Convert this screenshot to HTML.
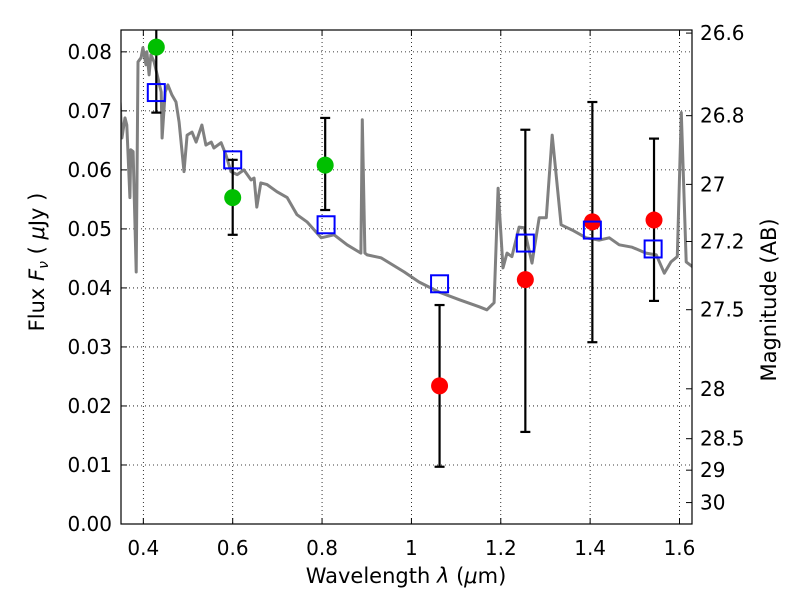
<!DOCTYPE html>
<html><head><meta charset="utf-8"><style>
body{margin:0;background:#fff;}
svg{display:block;font-family:"DejaVu Sans","Liberation Sans",sans-serif;}
</style></head><body>
<svg id="chart" width="800" height="600" xmlns="http://www.w3.org/2000/svg"></svg>
<script>
const specWave=[0.348,0.352,0.359,0.363,0.370,0.372,0.377,0.384,0.388,0.395,0.399,0.406,0.408,0.413,0.417,0.424,0.431,0.440,0.442,0.449,0.455,0.464,0.473,0.480,0.491,0.498,0.509,0.518,0.531,0.540,0.552,0.558,0.574,0.585,0.596,0.610,0.625,0.641,0.648,0.654,0.663,0.677,0.699,0.722,0.744,0.766,0.798,0.827,0.856,0.887,0.890,0.896,0.901,0.932,0.984,1.017,1.062,1.107,1.152,1.169,1.185,1.194,1.205,1.214,1.225,1.241,1.252,1.270,1.286,1.302,1.315,1.335,1.360,1.391,1.420,1.443,1.465,1.494,1.525,1.548,1.566,1.581,1.595,1.604,1.615,1.629];
const specFlux=[0.0714,0.0654,0.0688,0.0676,0.0553,0.0634,0.0631,0.0427,0.0783,0.0790,0.0807,0.0778,0.0800,0.0761,0.0795,0.0783,0.0761,0.0732,0.0654,0.0732,0.0744,0.0727,0.0715,0.0681,0.0597,0.0659,0.0664,0.0647,0.0676,0.0642,0.0647,0.0637,0.0646,0.0625,0.0597,0.0592,0.0600,0.0583,0.0586,0.0537,0.0578,0.0575,0.0563,0.0553,0.0524,0.0512,0.0485,0.0490,0.0473,0.0459,0.0685,0.0459,0.0456,0.0451,0.0427,0.0410,0.0393,0.0380,0.0368,0.0363,0.0375,0.0569,0.0434,0.0459,0.0453,0.0503,0.0502,0.0442,0.0519,0.0519,0.0659,0.0507,0.0498,0.0485,0.0481,0.0485,0.0473,0.0469,0.0459,0.0456,0.0425,0.0444,0.0453,0.0697,0.0444,0.0436];
const greenWave=[0.429,0.600,0.807];
const greenFlux=[0.0808,0.0553,0.0608];
const greenLo=[0.0697,0.0490,0.0532];
const greenHi=[0.0900,0.0617,0.0688];
const redWave=[1.063,1.255,1.405,1.543];
const redFlux=[0.0234,0.0414,0.0512,0.0515];
const redLo=[0.0097,0.0156,0.0308,0.0378];
const redHi=[0.0371,0.0668,0.0715,0.0653];
const modelWave=[0.429,0.600,0.809,1.063,1.255,1.405,1.541];
const modelFlux=[0.0731,0.0617,0.0507,0.0407,0.0476,0.0498,0.0466];
const xTicks=[0.4,0.6,0.8,1.0,1.2,1.4,1.6];
const xTickLabels=["0.4","0.6","0.8","1","1.2","1.4","1.6"];
const yTicks=[0,0.01,0.02,0.03,0.04,0.05,0.06,0.07,0.08];
const yTickLabels=["0.00","0.01","0.02","0.03","0.04","0.05","0.06","0.07","0.08"];
const magTicks=[26.6,26.8,27,27.2,27.5,28,28.5,29,30];
const magTickLabels=["26.6","26.8","27","27.2","27.5","28","28.5","29","30"];

const L=121,R=692,T=30,B=524;
const X0=0.35,X1=1.628,Y0=0,Y1=0.0837;
const sx=v=>L+(v-X0)/(X1-X0)*(R-L);
const sy=v=>B-(v-Y0)/(Y1-Y0)*(B-T);
const svg=document.getElementById('chart');
const NS='http://www.w3.org/2000/svg';
function mk(tag,attrs,parent){const e=document.createElementNS(NS,tag);for(const k in attrs)e.setAttribute(k,attrs[k]);(parent||svg).appendChild(e);return e;}

const defs=mk('defs',{});
const cp=mk('clipPath',{id:'clip'},defs);
mk('rect',{x:L,y:T,width:R-L,height:B-T},cp);

const grid=mk('g',{});


xTicks.forEach(t=>mk('line',{x1:sx(t),x2:sx(t),y1:T,y2:B,stroke:'#000','stroke-width':0.8,'stroke-dasharray':'1,3'},grid));
yTicks.forEach(t=>mk('line',{x1:L,x2:R,y1:sy(t),y2:sy(t),stroke:'#000','stroke-width':0.8,'stroke-dasharray':'1,3'},grid));

const plot=mk('g',{'clip-path':'url(#clip)'});
let d='';specWave.forEach((w,i)=>{d+=(i?'L':'M')+sx(w).toFixed(1)+','+sy(specFlux[i]).toFixed(1);});
const sp=mk('path',{d:d,fill:'none',stroke:'#808080','stroke-width':3,'stroke-linejoin':'round'},plot);



function errbar(w,lo,hi,name){
  const g=mk('g',{},plot);
  
  
  const x=sx(w);
  mk('line',{x1:x,x2:x,y1:sy(lo),y2:sy(hi),stroke:'#000','stroke-width':2.2},g);
  mk('line',{x1:x-5,x2:x+5,y1:sy(lo),y2:sy(lo),stroke:'#000','stroke-width':2.2},g);
  mk('line',{x1:x-5,x2:x+5,y1:sy(hi),y2:sy(hi),stroke:'#000','stroke-width':2.2},g);
}
greenWave.forEach((w,i)=>errbar(w,greenLo[i],greenHi[i],'green-error-bar'));
redWave.forEach((w,i)=>errbar(w,redLo[i],redHi[i],'red-error-bar'));
greenWave.forEach((w,i)=>{const c=mk('circle',{cx:sx(w),cy:sy(greenFlux[i]),r:8.5,fill:'#00bf00'},plot);
  
  });
redWave.forEach((w,i)=>{const c=mk('circle',{cx:sx(w),cy:sy(redFlux[i]),r:8.5,fill:'#ff0000'},plot);
  
  });
modelWave.forEach((w,i)=>{const r=mk('rect',{x:sx(w)-8.5,y:sy(modelFlux[i])-8.5,width:17,height:17,fill:'none',stroke:'#0000ff','stroke-width':2},plot);
  
  });

const fr=mk('rect',{x:L,y:T,width:R-L,height:B-T,fill:'none',stroke:'#000','stroke-width':1.2});



xTicks.forEach((t,i)=>{const x=sx(t);
  mk('line',{x1:x,x2:x,y1:B,y2:B-6,stroke:'#000'});mk('line',{x1:x,x2:x,y1:T,y2:T+6,stroke:'#000'});
  const tx=mk('text',{x:x,y:B+31,'text-anchor':'middle','font-size':20});tx.textContent=xTickLabels[i];
  
  });
yTicks.forEach((t,i)=>{const y=sy(t);
  mk('line',{x1:L,x2:L+6,y1:y,y2:y,stroke:'#000'});
  const tx=mk('text',{x:L-9,y:y+7,'text-anchor':'end','font-size':20});tx.textContent=yTickLabels[i];
  
  });
magTicks.forEach((m,i)=>{const y=sy(Math.pow(10,(23.9-m)/2.5));
  mk('line',{x1:R,x2:R-6,y1:y,y2:y,stroke:'#000'});
  const tx=mk('text',{x:R+8,y:y+7,'text-anchor':'start','font-size':20});tx.textContent=magTickLabels[i];
  
  });

const xl=mk('text',{x:406,y:583,'text-anchor':'middle','font-size':21});
xl.innerHTML='Wavelength  <tspan font-style="italic">λ</tspan> (<tspan font-style="italic">μ</tspan>m)';


const yl=mk('text',{x:0,y:0,'text-anchor':'middle','font-size':21,transform:'translate(44,262) rotate(-90)'});
yl.innerHTML='Flux  <tspan font-style="italic">F</tspan><tspan font-style="italic" font-size="14" dy="4">ν</tspan><tspan dy="-4">  ( </tspan><tspan font-style="italic">μ</tspan>Jy )';


const rl=mk('text',{x:0,y:0,'text-anchor':'middle','font-size':21,transform:'translate(776,300) rotate(-90)'});
rl.textContent='Magnitude (AB)';


</script>
</body></html>
